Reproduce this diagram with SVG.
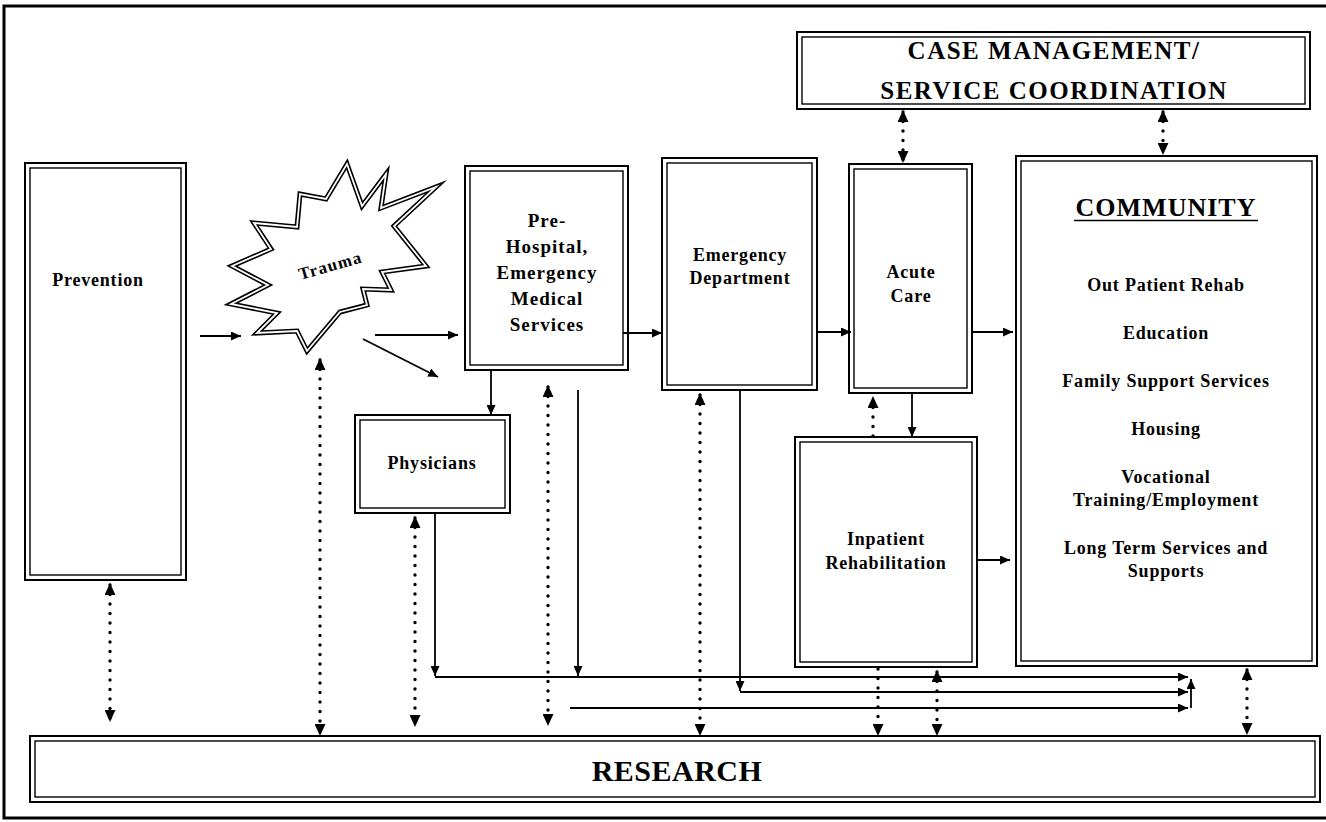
<svg xmlns="http://www.w3.org/2000/svg" width="1326" height="822" viewBox="0 0 1326 822">
<style>
.box{fill:#fff;stroke:#000;stroke-width:2}
.in{fill:none;stroke:#000;stroke-width:1.4}
.t{font-family:"Liberation Serif","Times New Roman",serif;font-weight:bold;text-anchor:middle;fill:#000}
.s{font-size:18px;letter-spacing:0.8px}
.p{font-size:19px;letter-spacing:1px}
.c{fill:none;stroke:#000;stroke-width:1.8}
.d{fill:none;stroke:#000;stroke-width:3.4;stroke-dasharray:0 9.5;stroke-linecap:round}
.star{stroke-linejoin:miter;stroke-miterlimit:8}
</style>
<defs>
<marker id="a" viewBox="0 0 10 10" refX="10" refY="5" markerWidth="10" markerHeight="9" markerUnits="userSpaceOnUse" orient="auto-start-reverse" preserveAspectRatio="none"><path d="M0,0 L10,5 L0,10z"/></marker>
<marker id="b" viewBox="0 0 10 10" refX="8.4" refY="5" markerWidth="12" markerHeight="11" markerUnits="userSpaceOnUse" orient="auto-start-reverse" preserveAspectRatio="none"><path d="M0,0 L10,5 L0,10z"/></marker>
</defs>
<rect x="0" y="0" width="1326" height="822" fill="#fff"/>
<rect x="4" y="6" width="1332" height="812" fill="none" stroke="#000" stroke-width="3"/>

<g id="case-management">
<rect class="box" x="797" y="32" width="513" height="77"/>
<rect class="in" x="802" y="37" width="503" height="67"/>
<text class="t" x="1054" y="59" style="font-size:25px;letter-spacing:1.5px">CASE MANAGEMENT/</text>
<text class="t" x="1054" y="99" style="font-size:25px;letter-spacing:1.5px">SERVICE COORDINATION</text>
</g>

<g id="prevention">
<rect class="box" x="25" y="163" width="161" height="417"/>
<rect class="in" x="30" y="168" width="151" height="407"/>
<text class="t s" x="98" y="286">Prevention</text>
</g>

<g id="trauma">
<polygon class="star" points="347,164 362,206 386,174 381,208 436,187 394,226 426,266 382,272 391,290 363,289 367,305 340,312 307,351 297,331 257,333 277,313 231,304 268,285 232,266 271,249 254,223 297,227 300,194 326,199" fill="#fff" stroke="#000" stroke-width="5"/>
<polygon class="star" points="347,164 362,206 386,174 381,208 436,187 394,226 426,266 382,272 391,290 363,289 367,305 340,312 307,351 297,331 257,333 277,313 231,304 268,285 232,266 271,249 254,223 297,227 300,194 326,199" fill="none" stroke="#fff" stroke-width="1.8"/>
<text class="t" x="332" y="271" transform="rotate(-16 332 271)" style="font-size:17px;letter-spacing:1.2px">Trauma</text>
</g>

<g id="pre-hospital">
<rect class="box" x="465" y="166" width="163" height="204"/>
<rect class="in" x="470" y="171" width="153" height="194"/>
<text class="t p" x="547" y="227">Pre-</text>
<text class="t p" x="547" y="253">Hospital,</text>
<text class="t p" x="547" y="279">Emergency</text>
<text class="t p" x="547" y="305">Medical</text>
<text class="t p" x="547" y="331">Services</text>
</g>

<g id="physicians">
<rect class="box" x="355" y="415" width="155" height="98"/>
<rect class="in" x="360" y="420" width="145" height="88"/>
<text class="t s" x="432" y="469">Physicians</text>
</g>

<g id="emergency-department">
<rect class="box" x="662" y="158" width="155" height="232"/>
<rect class="in" x="667" y="163" width="145" height="222"/>
<text class="t s" x="740" y="261">Emergency</text>
<text class="t s" x="740" y="284">Department</text>
</g>

<g id="acute-care">
<rect class="box" x="849" y="164" width="123" height="229"/>
<rect class="in" x="854" y="169" width="113" height="219"/>
<text class="t s" x="911" y="278">Acute</text>
<text class="t s" x="911" y="302">Care</text>
</g>

<g id="inpatient-rehabilitation">
<rect class="box" x="795" y="437" width="182" height="230"/>
<rect class="in" x="800" y="442" width="172" height="220"/>
<text class="t s" x="886" y="545">Inpatient</text>
<text class="t s" x="886" y="569">Rehabilitation</text>
</g>

<g id="community">
<rect class="box" x="1016" y="156" width="301" height="510"/>
<rect class="in" x="1021" y="161" width="291" height="500"/>
<text class="t" x="1166" y="216" style="font-size:26px;letter-spacing:1px">COMMUNITY</text>
<line x1="1074" y1="220.5" x2="1258" y2="220.5" stroke="#000" stroke-width="1.6"/>
<text class="t s" x="1166" y="291">Out Patient Rehab</text>
<text class="t s" x="1166" y="339">Education</text>
<text class="t s" x="1166" y="387">Family Support Services</text>
<text class="t s" x="1166" y="435">Housing</text>
<text class="t s" x="1166" y="483">Vocational</text>
<text class="t s" x="1166" y="506">Training/Employment</text>
<text class="t s" x="1166" y="554">Long Term Services and</text>
<text class="t s" x="1166" y="577">Supports</text>
</g>

<g id="research">
<rect class="box" x="30" y="736" width="1290" height="66"/>
<rect class="in" x="35" y="741" width="1280" height="56"/>
<text class="t" x="677" y="781" style="font-size:30px;letter-spacing:0.5px">RESEARCH</text>
</g>

<g id="connectors">
<path class="c" d="M200,336 H241" marker-end="url(#a)"/>
<path class="c" d="M375,335 H458" marker-end="url(#a)"/>
<path class="c" d="M363,339 L438,377" marker-end="url(#a)"/>
<path class="c" d="M491,370 V415" marker-end="url(#a)"/>
<path class="c" d="M623,333 H662" marker-end="url(#a)"/>
<path class="c" d="M818,332 H851" marker-end="url(#a)"/>
<path class="c" d="M973,332 H1013" marker-end="url(#a)"/>
<path class="c" d="M912,393 V437" marker-end="url(#a)"/>
<path class="c" d="M977,560 H1010" marker-end="url(#a)"/>
<path class="c" d="M435,513 V676" marker-end="url(#a)"/>
<path class="c" d="M435,677 H1188" marker-end="url(#a)"/>
<path class="c" d="M578,390 V676" marker-end="url(#a)"/>
<path class="c" d="M740,390 V691" marker-end="url(#a)"/>
<path class="c" d="M740,692 H1188" marker-end="url(#a)"/>
<path class="c" d="M570,708 H1188" marker-end="url(#a)"/>
<path class="c" d="M1191,708 V679" marker-end="url(#a)"/>

<path class="d" d="M110,585 V720" marker-start="url(#b)" marker-end="url(#b)"/>
<path class="d" d="M320,360 V734" marker-start="url(#b)" marker-end="url(#b)"/>
<path class="d" d="M415,518 V725" marker-start="url(#b)" marker-end="url(#b)"/>
<path class="d" d="M548,387 V724" marker-start="url(#b)" marker-end="url(#b)"/>
<path class="d" d="M700,395 V734" marker-start="url(#b)" marker-end="url(#b)"/>
<path class="d" d="M878,669 V734" marker-end="url(#b)"/>
<path class="d" d="M937,672 V734" marker-start="url(#b)" marker-end="url(#b)"/>
<path class="d" d="M1247,670 V733" marker-start="url(#b)" marker-end="url(#b)"/>
<path class="d" d="M873,436 V398" marker-end="url(#b)"/>
<path class="d" d="M903,112 V161" marker-start="url(#b)" marker-end="url(#b)"/>
<path class="d" d="M1163,112 V153" marker-start="url(#b)" marker-end="url(#b)"/>
</g>
</svg>
